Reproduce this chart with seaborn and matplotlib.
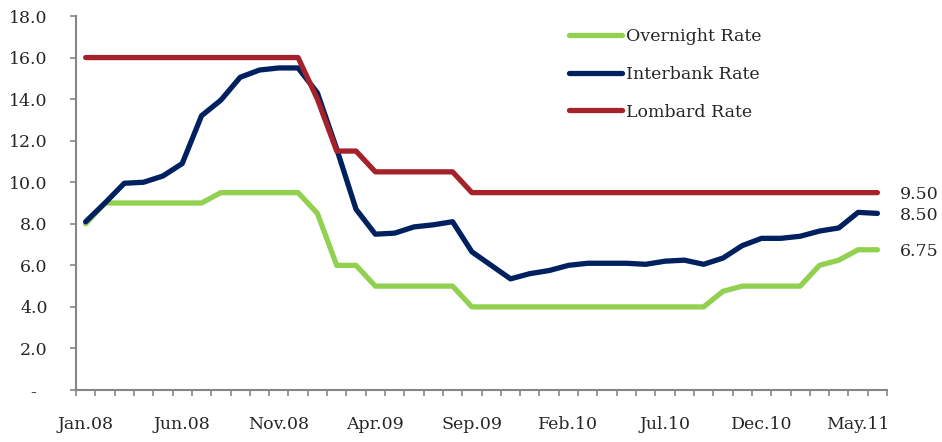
import numpy as np
import pandas as pd
import matplotlib
matplotlib.use('Agg')
import matplotlib.pyplot as plt
import seaborn as sns
from matplotlib.ticker import FixedLocator, FuncFormatter

# Data (monthly, Jan.08 - Jun.11)
months = pd.date_range('2008-01-01', '2011-06-01', freq='MS').strftime('%b.%y').tolist()

overnight = [8.0, 9.0, 9.0, 9.0, 9.0, 9.0, 9.0, 9.5, 9.5, 9.5, 9.5, 9.5,
             8.5, 6.0, 6.0, 5.0, 5.0, 5.0, 5.0, 5.0,
             4.0, 4.0, 4.0, 4.0, 4.0, 4.0, 4.0, 4.0, 4.0, 4.0, 4.0, 4.0, 4.0,
             4.75, 5.0, 5.0, 5.0, 5.0, 6.0, 6.25, 6.75, 6.75]

interbank = [8.1, 9.0, 9.95, 10.0, 10.3, 10.9, 13.2, 13.95, 15.05, 15.4, 15.5, 15.5,
             14.3, 11.6, 8.7, 7.5, 7.55, 7.85, 7.95, 8.1,
             6.65, 6.0, 5.35, 5.6, 5.75, 6.0, 6.1, 6.1, 6.1, 6.05, 6.2, 6.25, 6.05,
             6.35, 6.95, 7.3, 7.3, 7.4, 7.65, 7.8, 8.55, 8.5]

lombard = [16.0] * 12 + [14.0, 11.5, 11.5] + [10.5] * 5 + [9.5] * 22

series_names = ['Overnight Rate', 'Interbank Rate', 'Lombard Rate']
series_colors = ['#92D050', '#002060', '#A5222A']
end_labels = ['6.75', '8.50', '9.50']

df = pd.DataFrame({
    'idx': list(range(len(months))) * 3,
    'rate': overnight + interbank + lombard,
    'series': [s for s in series_names for _ in months],
})

sns.set_style('white')
plt.rcParams['font.family'] = ['DejaVu Serif']
fs = 12.5

fig = plt.figure(figsize=(9.42, 4.42), dpi=100)
ax = fig.add_axes([0.0807, 0.1176, 0.861, 0.8462])

sns.lineplot(data=df, x='idx', y='rate', hue='series', hue_order=series_names,
             palette=series_colors, linewidth=3.8, ax=ax, legend=True)

# axes styling
ax.set_xlim(-0.5, len(months) - 0.5)
ax.set_ylim(0, 18)
ax.set_xlabel('')
ax.set_ylabel('')
for s in ['top', 'right']:
    ax.spines[s].set_visible(False)
for s in ['left', 'bottom']:
    ax.spines[s].set_color('#868686')
    ax.spines[s].set_linewidth(1.5)

ax.set_yticks(np.arange(0, 18.1, 2))
ax.yaxis.set_major_formatter(FuncFormatter(lambda v, p: '-  ' if v == 0 else f'{v:.1f}'))
ax.tick_params(axis='y', which='major', direction='out', length=4.3, width=1.2,
               color='#868686', pad=16, labelsize=fs, left=True)

ax.xaxis.set_major_locator(FixedLocator(list(range(0, len(months), 5))))
ax.set_xticklabels([months[i] for i in range(0, len(months), 5)])
ax.xaxis.set_minor_locator(FixedLocator(np.arange(-0.5, len(months), 1)))
ax.tick_params(axis='x', which='major', length=0, pad=19, labelsize=fs)
ax.tick_params(axis='x', which='minor', direction='out', length=4.3, width=1.2,
               color='#868686', bottom=True)

# end value labels
for vals, lab in zip([overnight, interbank, lombard], end_labels):
    ax.annotate(lab, xy=(len(months) - 1, vals[-1]), xytext=(22, -2),
                textcoords='offset pixels', va='center', ha='left', fontsize=fs,
                annotation_clip=False)

leg = ax.legend(loc='upper left', bbox_to_anchor=(0.588, 1.01), frameon=False,
                fontsize=fs, handlelength=3.1, handletextpad=0.2, labelspacing=1.2)
for line in leg.get_lines():
    line.set_linewidth(3.8)

fig.savefig('out.png', dpi=100)
